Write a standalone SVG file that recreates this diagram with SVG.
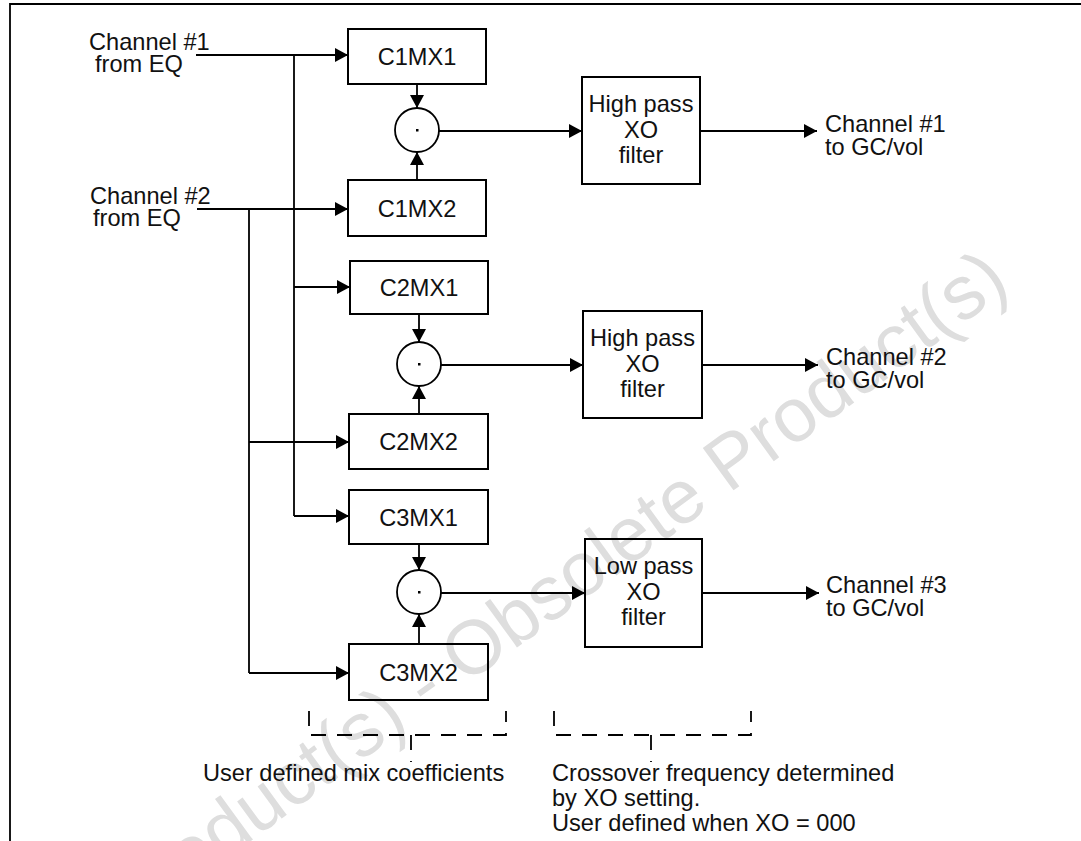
<svg xmlns="http://www.w3.org/2000/svg" width="1081" height="841" viewBox="0 0 1081 841">
<defs>
<marker id="arr" markerUnits="userSpaceOnUse" markerWidth="14" markerHeight="14" refX="13" refY="7" orient="auto">
<path d="M0,0 L13,7 L0,14 z" fill="#000"/>
</marker>
<style>
.t{font-family:"Liberation Sans",Arial,sans-serif;font-size:23.6px;fill:#111}
.c{text-anchor:middle}
.box{fill:none;stroke:#000;stroke-width:2}
.ln{fill:none;stroke:#000;stroke-width:1.8}
.ar{fill:none;stroke:#000;stroke-width:1.8;marker-end:url(#arr)}
.dash{fill:none;stroke:#000;stroke-width:1.8;stroke-dasharray:15 11}
.wm{font-family:"Liberation Sans",Arial,sans-serif;font-size:76px;fill:#dedede}
</style>
</defs>
<rect width="1081" height="841" fill="#fff"/>
<text class="wm" text-anchor="end" transform="translate(1012,288) rotate(-36)">oduct(s) - Obsolete Product(s)</text>
<g id="frame">
<path class="ln" d="M10,841 V4 H1081" stroke-width="2.5"/>
</g>
<g id="labels">
<text class="t" x="89" y="50">Channel #1</text>
<text class="t" x="95" y="72">from EQ</text>
<text class="t" x="90" y="204">Channel #2</text>
<text class="t" x="93" y="226">from EQ</text>
<text class="t" x="825" y="132">Channel #1</text>
<text class="t" x="825" y="155">to GC/vol</text>
<text class="t" x="826" y="365">Channel #2</text>
<text class="t" x="826" y="388">to GC/vol</text>
<text class="t" x="826" y="593">Channel #3</text>
<text class="t" x="826" y="616">to GC/vol</text>
<text class="t" x="203" y="781">User defined mix coefficients</text>
<text class="t" x="552" y="781">Crossover frequency determined</text>
<text class="t" x="552" y="806">by XO setting.</text>
<text class="t" x="552" y="831">User defined when XO = 000</text>
</g>
<g id="C1MX1"><rect class="box" x="348" y="29" width="138" height="55"/><text class="t c" x="417" y="65">C1MX1</text></g>
<g id="C1MX2"><rect class="box" x="348" y="180" width="138" height="56"/><text class="t c" x="417" y="216.5">C1MX2</text></g>
<g id="C2MX1"><rect class="box" x="350" y="261" width="138" height="53"/><text class="t c" x="419" y="296">C2MX1</text></g>
<g id="C2MX2"><rect class="box" x="349" y="414" width="139" height="55"/><text class="t c" x="418.5" y="450">C2MX2</text></g>
<g id="C3MX1"><rect class="box" x="349" y="490" width="139" height="54"/><text class="t c" x="418.5" y="525.5">C3MX1</text></g>
<g id="C3MX2"><rect class="box" x="349" y="644" width="139" height="56"/><text class="t c" x="418.5" y="680.5">C3MX2</text></g>
<g id="mul1"><circle class="ln" cx="417" cy="130" r="22"/><rect x="416" y="129" width="2.5" height="2.5" fill="#000"/></g>
<g id="mul2"><circle class="ln" cx="419" cy="364" r="22"/><rect x="418" y="363" width="2.5" height="2.5" fill="#000"/></g>
<g id="mul3"><circle class="ln" cx="419" cy="592" r="22"/><rect x="418" y="591" width="2.5" height="2.5" fill="#000"/></g>
<g id="HP1"><rect class="box" x="582" y="77" width="118" height="107"/><text class="t c" x="641" y="112">High pass</text><text class="t c" x="641" y="138">XO</text><text class="t c" x="641" y="163">filter</text></g>
<g id="HP2"><rect class="box" x="583" y="311" width="119" height="107"/><text class="t c" x="642.5" y="346">High pass</text><text class="t c" x="642.5" y="372">XO</text><text class="t c" x="642.5" y="397">filter</text></g>
<g id="LP"><rect class="box" x="585" y="539" width="117" height="108"/><text class="t c" x="643.5" y="574">Low pass</text><text class="t c" x="643.5" y="600">XO</text><text class="t c" x="643.5" y="625">filter</text></g>
<g id="connectors">
<path class="ar" d="M196,55 H348"/>
<path class="ln" d="M294,55 V516"/>
<path class="ar" d="M294,287 H350"/>
<path class="ar" d="M294,516 H349"/>
<path class="ar" d="M197,209 H348"/>
<path class="ln" d="M249,209 V673"/>
<path class="ar" d="M249,442 H349"/>
<path class="ar" d="M249,673 H349"/>
<path class="ar" d="M417,84 V108"/>
<path class="ar" d="M417,180 V152"/>
<path class="ar" d="M439,131 H582"/>
<path class="ar" d="M700,131 H817"/>
<path class="ar" d="M419,314 V342"/>
<path class="ar" d="M419,414 V386"/>
<path class="ar" d="M441,365 H583"/>
<path class="ar" d="M702,365 H818"/>
<path class="ar" d="M419,544 V570"/>
<path class="ar" d="M419,644 V614"/>
<path class="ar" d="M441,593 H585"/>
<path class="ar" d="M703,593 H819"/>
</g>
<g id="brackets">
<path class="dash" d="M309,711 V735 H506 V711"/>
<path class="dash" d="M411,735 V762"/>
<path class="dash" d="M554,711 V735 H751 V711"/>
<path class="dash" d="M651,735 V762"/>
</g>
</svg>
